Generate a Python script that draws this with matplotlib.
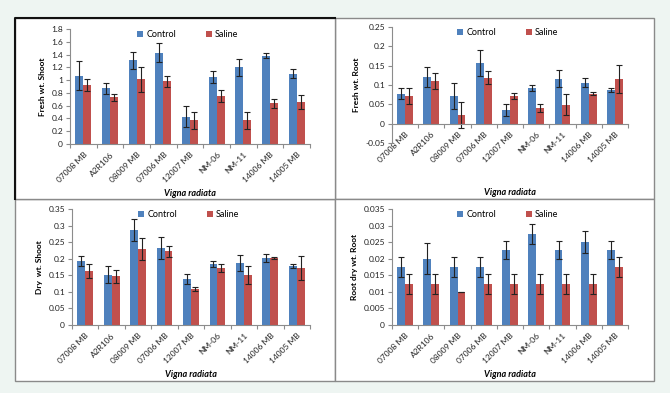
import matplotlib
matplotlib.use("Agg")
import matplotlib.pyplot as plt
from matplotlib.patches import Rectangle
from matplotlib.lines import Line2D
import numpy as np

plt.rcParams['font.family'] = ['Lato', 'DejaVu Sans']

categories = ["07008 MB", "A2R106", "08009 MB", "07006 MB", "12007 MB",
              "NM-06", "NM-11", "14006 MB", "14005 MB"]

fresh_shoot_control = [1.07, 0.87, 1.31, 1.43, 0.43, 1.05, 1.20, 1.38, 1.10]
fresh_shoot_control_err = [0.23, 0.09, 0.13, 0.15, 0.16, 0.10, 0.13, 0.04, 0.07]
fresh_shoot_saline = [0.92, 0.73, 1.01, 0.98, 0.37, 0.75, 0.37, 0.64, 0.66]
fresh_shoot_saline_err = [0.09, 0.06, 0.19, 0.09, 0.13, 0.10, 0.13, 0.07, 0.11]

fresh_root_control = [0.077, 0.121, 0.072, 0.157, 0.036, 0.093, 0.116, 0.106, 0.087]
fresh_root_control_err = [0.014, 0.025, 0.034, 0.033, 0.015, 0.008, 0.022, 0.011, 0.006]
fresh_root_saline = [0.072, 0.111, 0.022, 0.119, 0.072, 0.040, 0.049, 0.078, 0.116]
fresh_root_saline_err = [0.020, 0.021, 0.034, 0.017, 0.007, 0.010, 0.027, 0.003, 0.036]

dry_shoot_control = [0.194, 0.152, 0.286, 0.232, 0.139, 0.184, 0.187, 0.203, 0.179]
dry_shoot_control_err = [0.015, 0.025, 0.034, 0.034, 0.015, 0.008, 0.023, 0.012, 0.006]
dry_shoot_saline = [0.164, 0.147, 0.230, 0.222, 0.109, 0.173, 0.150, 0.203, 0.173]
dry_shoot_saline_err = [0.021, 0.020, 0.034, 0.017, 0.007, 0.012, 0.027, 0.003, 0.036]

root_dry_control = [0.0175, 0.020, 0.0175, 0.0175, 0.0225, 0.0275, 0.0225, 0.025, 0.0225]
root_dry_control_err = [0.003, 0.0047, 0.003, 0.003, 0.0027, 0.003, 0.0027, 0.0033, 0.0027]
root_dry_saline = [0.0125, 0.0125, 0.010, 0.0125, 0.0125, 0.0125, 0.0125, 0.0125, 0.0175]
root_dry_saline_err = [0.003, 0.003, 0.0, 0.003, 0.003, 0.003, 0.003, 0.003, 0.003]

panels = [
    dict(rect=(70, 29, 310, 144), ylim=(0, 1.8), step=0.2, ylabel="Fresh wt. Shoot",
         c=fresh_shoot_control, ce=fresh_shoot_control_err,
         s=fresh_shoot_saline, se=fresh_shoot_saline_err),
    dict(rect=(392, 27, 628, 143), ylim=(-0.05, 0.25), step=0.05, ylabel="Fresh wt. Root",
         c=fresh_root_control, ce=fresh_root_control_err,
         s=fresh_root_saline, se=fresh_root_saline_err),
    dict(rect=(72, 209, 310, 325), ylim=(0, 0.35), step=0.05, ylabel="Dry  wt. Shoot",
         c=dry_shoot_control, ce=dry_shoot_control_err,
         s=dry_shoot_saline, se=dry_shoot_saline_err),
    dict(rect=(392, 209, 628, 325), ylim=(0, 0.035), step=0.005, ylabel="Root dry wt. Root",
         c=root_dry_control, ce=root_dry_control_err,
         s=root_dry_saline, se=root_dry_saline_err),
]

W, H = 670, 393
fig = plt.figure(figsize=(6.7, 3.93), dpi=100)
fig.patch.set_facecolor("#eef5f2")

def box(x0, y0, x1, y1, ec, lw):
    r = Rectangle((x0 / W, 1 - y1 / H), (x1 - x0) / W, (y1 - y0) / H,
                  transform=fig.transFigure, facecolor="white", edgecolor=ec,
                  linewidth=lw, zorder=-10)
    fig.patches.append(r)

box(335, 18, 654, 199, "#8a8a8a", 1.0)
box(15, 199, 335, 381, "#8a8a8a", 1.0)
box(335, 199, 654, 381, "#8a8a8a", 1.0)
box(15, 18, 335, 199, "#8a8a8a", 1.0)
fig.lines.append(Line2D([15 / W, 15 / W, 335 / W], [1 - 199 / H, 1 - 18 / H, 1 - 18 / H],
                        transform=fig.transFigure, color="#111111", linewidth=1.5, zorder=-5))

blue = "#4f81bd"
red = "#c0504d"
x = np.arange(len(categories))
bw = 0.30

for p in panels:
    x0, y0, x1, y1 = p["rect"]
    ax = fig.add_axes([x0 / W, 1 - y1 / H, (x1 - x0) / W, (y1 - y0) / H])
    ax.set_facecolor("none")
    ekw = dict(ecolor="#222222", elinewidth=0.8, capsize=2, capthick=0.8)
    ax.bar(x - bw / 2, p["c"], bw, color=blue, label="Control", zorder=2,
           yerr=p["ce"], error_kw=ekw)
    ax.bar(x + bw / 2, p["s"], bw, color=red, label="Saline", zorder=2,
           yerr=p["se"], error_kw=ekw)
    ax.set_xlim(-0.5, len(categories) - 0.5)
    lo, hi = p["ylim"]
    ax.set_ylim(lo, hi)
    ticks = np.round(np.arange(lo, hi + p["step"] / 2, p["step"]), 4)
    ax.set_yticks(ticks)
    ax.set_yticklabels(["{:g}".format(t) for t in ticks])
    for sp in ("top", "right"):
        ax.spines[sp].set_visible(False)
    for sp in ("left", "bottom"):
        ax.spines[sp].set_color("#8c8c8c")
        ax.spines[sp].set_linewidth(0.8)
    ax.spines["bottom"].set_position(("data", 0))
    ax.set_xticks(np.arange(-0.5, len(categories), 1.0))
    ax.set_xticklabels([])
    ax.set_xticks(x, minor=True)
    ax.set_xticklabels(categories, minor=True, rotation=45, ha="right",
                       rotation_mode="anchor", fontsize=6, color="#222222")
    ax.tick_params(axis="x", which="major", direction="out", length=3, color="#8c8c8c", width=0.8)
    ax.tick_params(axis="x", which="minor", length=0, pad=5)
    ax.tick_params(axis="y", direction="out", length=3, color="#8c8c8c", width=0.8,
                   labelsize=6, labelcolor="#222222", pad=2)
    ax.set_ylabel(p["ylabel"], fontsize=6, fontweight="bold", labelpad=4)
    ax.text(0.5, -0.39, "Vigna radiata", transform=ax.transAxes,
            ha="center", va="top", fontsize=6.5, fontweight="bold", style="italic")
    ax.legend(loc="upper center", bbox_to_anchor=(0.49, 1.06), ncol=2, frameon=False,
              fontsize=6.5, handlelength=0.7, handleheight=0.7, columnspacing=3.3,
              handletextpad=0.3)

fig.savefig("out.png", dpi=100, facecolor=fig.get_facecolor())
